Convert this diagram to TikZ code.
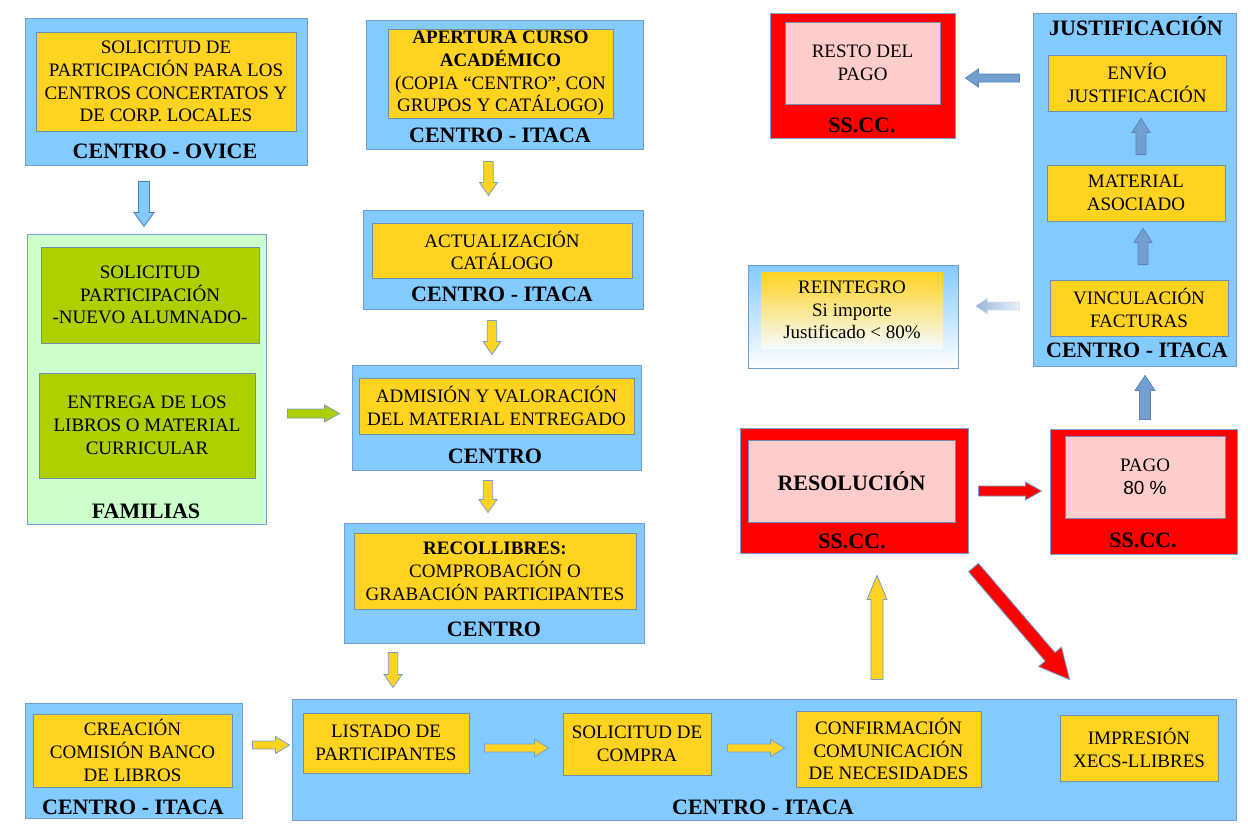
\documentclass[tikz,border=0pt]{standalone}
\usepackage{fontspec}
\setmainfont{Liberation Serif}
\newfontfamily\sanslib{Liberation Sans}
\usepackage{tikz}
\usetikzlibrary{calc}

\definecolor{azul}{HTML}{83CAFF}
\definecolor{bordeazul}{HTML}{729FCF}
\definecolor{azulosc}{HTML}{4A7EBB}
\definecolor{amarillo}{HTML}{FFD320}
\definecolor{bordeint}{HTML}{6F8DAF}
\definecolor{verdeclaro}{HTML}{CCFFCC}
\definecolor{verde}{HTML}{AECF00}
\definecolor{rojo}{HTML}{FF0000}
\definecolor{rosa}{HTML}{FFCCCC}
\definecolor{acero}{HTML}{729FCF}
\definecolor{aceroosc}{HTML}{5A84BA}

% flecha de bloque: [estilo]{inicio}{fin}{medio ancho}{medio ancho punta}{largo punta}
\newcommand{\flecha}[6][]{%
  \coordinate (fa) at (#2);
  \coordinate (fb) at (#3);
  \coordinate (fc) at ($(fb)!#6!(fa)$);
  \draw[#1] ($(fa)!#4!90:(fb)$) -- ($(fc)!#4!90:(fb)$) -- ($(fc)!#5!90:(fb)$) -- (fb)
    -- ($(fc)!#5!-90:(fb)$) -- ($(fc)!#4!-90:(fb)$) -- ($(fa)!#4!-90:(fb)$) -- cycle;}

\begin{document}
\begin{tikzpicture}[x=1pt, y=-1pt,
	caja/.style={draw=bordeazul, fill=azul, line width=1pt, inner sep=0pt},
	interno/.style={draw=bordeint, fill=amarillo, line width=0.8pt, inner sep=1pt, align=center,
		font=\fontsize{19}{22.8}\selectfont},
	etiqueta/.style={anchor=base, inner sep=0pt, font=\fontsize{22}{26}\selectfont\bfseries},
	flamarilla/.style={draw=bordeazul, fill=amarillo, line width=0.8pt},
	flazul/.style={draw=azulosc, fill=azul, line width=0.8pt},
	flverde/.style={draw=bordeazul, fill=verde, line width=0.8pt},
	flroja/.style={draw=bordeazul, fill=rojo, line width=0.8pt},
	flacero/.style={draw=aceroosc, fill=acero, line width=0.8pt},
	flpalida/.style={draw=acero!30, left color=acero!75, right color=acero!15, line width=0.6pt}]
	\useasboundingbox (0,0) rectangle (1248,823);

	% columna izquierda
	\node[caja, minimum width=282pt, minimum height=147pt] (ovice) at (166,91.5) {};
	\node[interno, minimum width=260pt, minimum height=99pt] (ovicein) at (166,81.5) {SOLICITUD DE\\PARTICIPACIÓN PARA LOS\\CENTROS CONCERTATOS Y\\DE CORP. LOCALES};
	\node[etiqueta] (ovicelab) at (165,158) {CENTRO - OVICE};

	\node[caja, fill=verdeclaro, minimum width=239pt, minimum height=290pt] (familias) at (146.5,379) {};
	\node[interno, fill=verde, minimum width=218pt, minimum height=96pt] (famsol) at (150,295) {SOLICITUD\\PARTICIPACIÓN\\-NUEVO ALUMNADO-};
	\node[interno, fill=verde, minimum width=216pt, minimum height=105pt] (fament) at (147,425.5) {ENTREGA DE LOS\\LIBROS O MATERIAL\\CURRICULAR};
	\node[etiqueta] (famlab) at (146,518) {FAMILIAS};

	\node[caja, minimum width=217pt, minimum height=115pt] (creacion) at (133.5,760.5) {};
	\node[interno, minimum width=199pt, minimum height=73pt] (creacionin) at (132.5,750.5) {CREACIÓN\\COMISIÓN BANCO\\DE LIBROS};
	\node[etiqueta] (creacionlab) at (133,814) {CENTRO - ITACA};

	% columna central
	\node[caja, minimum width=277pt, minimum height=129pt] (apertura) at (504.5,84.5) {};
	\node[interno, minimum width=225pt, minimum height=89pt, inner sep=0pt] (aperturain) at (500.5,73.5) {\textbf{APERTURA CURSO}\\\textbf{ACADÉMICO}\\(COPIA “CENTRO”, CON\\GRUPOS Y CATÁLOGO)};
	\node[etiqueta] (aperturalab) at (500,142) {CENTRO - ITACA};

	\node[caja, minimum width=280pt, minimum height=99pt] (actual) at (503,259.5) {};
	\node[interno, minimum width=260pt, minimum height=55pt] (actualin) at (502,250.5) {ACTUALIZACIÓN\\CATÁLOGO};
	\node[etiqueta] (actuallab) at (502,301) {CENTRO - ITACA};

	\node[caja, minimum width=289pt, minimum height=105pt] (admision) at (496.5,417.5) {};
	\node[interno, minimum width=275pt, minimum height=56pt] (admisionin) at (496.5,406) {ADMISIÓN Y VALORACIÓN\\DEL MATERIAL ENTREGADO};
	\node[etiqueta] (admisionlab) at (495,463) {CENTRO};

	\node[caja, minimum width=300pt, minimum height=120pt] (recol) at (494,583) {};
	\node[interno, minimum width=282pt, minimum height=76pt] (recolin) at (495,571) {\textbf{RECOLLIBRES:}\\COMPROBACIÓN O\\GRABACIÓN PARTICIPANTES};
	\node[etiqueta] (recollab) at (494,636) {CENTRO};

	% fila inferior
	\node[caja, minimum width=944pt, minimum height=121pt] (itaca) at (764,759.5) {};
	\node[interno, minimum width=166pt, minimum height=60pt] (listado) at (386,743) {LISTADO DE\\PARTICIPANTES};
	\node[interno, minimum width=148pt, minimum height=62pt] (compra) at (637,744) {SOLICITUD DE\\COMPRA};
	\node[interno, minimum width=185pt, minimum height=76pt] (confirm) at (888.5,749) {CONFIRMACIÓN\\COMUNICACIÓN\\DE NECESIDADES};
	\node[interno, minimum width=158pt, minimum height=66pt] (impres) at (1139,748) {IMPRESIÓN\\XECS-LLIBRES};
	\node[etiqueta] (itacalab) at (763,814) {CENTRO - ITACA};

	% SS.CC.
	\node[caja, fill=rojo, minimum width=228pt, minimum height=125pt] (resol) at (854,490.5) {};
	\node[interno, fill=rosa, minimum width=207pt, minimum height=82pt, font=\fontsize{22}{26}\selectfont\bfseries] (resolin) at (851.5,481) {RESOLUCIÓN};
	\node[etiqueta] (resollab) at (852,548) {SS.CC.};

	\node[caja, fill=rojo, minimum width=187pt, minimum height=125pt] (pago) at (1143.5,491.5) {};
	\node[interno, fill=rosa, minimum width=160pt, minimum height=82pt] (pagoin) at (1145,477) {PAGO\\{\sanslib 80 \%}};
	\node[etiqueta] (pagolab) at (1143,547) {SS.CC.};

	\node[caja, fill=rojo, minimum width=185pt, minimum height=125pt] (resto) at (862.5,75.5) {};
	\node[interno, fill=rosa, minimum width=155pt, minimum height=82pt] (restoin) at (862.5,63) {RESTO DEL\\PAGO};
	\node[etiqueta] (restolab) at (862,132) {SS.CC.};

	% justificacion
	\node[caja, minimum width=203pt, minimum height=353pt] (justif) at (1134.5,189.5) {};
	\node[etiqueta] (justiftit) at (1136,35) {JUSTIFICACIÓN};
	\node[interno, minimum width=178pt, minimum height=56pt] (envio) at (1137,83) {ENVÍO\\JUSTIFICACIÓN};
	\node[interno, minimum width=178pt, minimum height=56pt] (material) at (1136,193) {MATERIAL\\ASOCIADO};
	\node[interno, minimum width=178pt, minimum height=56pt] (vincul) at (1139,308) {VINCULACIÓN\\FACTURAS};
	\node[etiqueta] (justiflab) at (1137,357) {CENTRO - ITACA};

	\node[caja, top color=azul, bottom color=white, minimum width=210pt, minimum height=103pt] (reint) at (853,316.5) {};
	\node[interno, draw=none, top color=amarillo, bottom color=azul!8, minimum width=182pt, minimum height=76pt] (reintin) at (852,310) {REINTEGRO\\Si importe\\Justificado < 80\%};

	% flechas
	\flecha[flazul]{$(ovice.south)+(-22,16)$}{$(ovice.south |- familias.north)+(-22,-7)$}{5.5pt}{10pt}{14pt}
	\flecha[flverde]{$(familias.east |- admision.west)+(21,-4)$}{$(admision.west)+(-12,-4)$}{4.5pt}{8.5pt}{15pt}
	\flecha[flamarilla]{$(apertura.south)+(-16,12)$}{$(apertura.south |- actual.north)+(-16,-14)$}{4.7pt}{9pt}{13pt}
	\flecha[flamarilla]{$(actual.south)+(-11,11)$}{$(actual.south |- admision.north)+(-11,-10)$}{4.7pt}{9pt}{13pt}
	\flecha[flamarilla]{$(admision.south)+(-8.5,10)$}{$(admision.south |- recol.north)+(-8.5,-10)$}{4.7pt}{9pt}{13pt}
	\flecha[flamarilla]{$(recol.south)+(-101,9)$}{$(recol.south |- itaca.north)+(-101,-11)$}{4.7pt}{9pt}{13pt}
	\flecha[flamarilla]{$(creacion.east |- listado)+(10,2)$}{$(itaca.west |- listado)+(-2,2)$}{4pt}{8.5pt}{14pt}
	\flecha[flamarilla]{$(listado.east)+(15,5)$}{$(compra.west |- listado.east)+(-14,5)$}{4pt}{8.5pt}{14pt}
	\flecha[flamarilla]{$(compra.east)+(16,4)$}{$(confirm.west |- compra.east)+(-11,4)$}{4pt}{8.5pt}{14pt}
	\flecha[flamarilla]{$(itaca.north -| resol.south)+(23,-19)$}{$(resol.south)+(23,22)$}{6pt}{10pt}{24pt}
	\flecha[flroja]{$(resol.east)+(10,0.5)$}{$(pago.west |- resol.east)+(-8,0.5)$}{5pt}{9pt}{16pt}
	\flecha[flroja]{$(resol.south east)+(5,14)$}{$(impres.north west)+(10,-35)$}{6.5pt}{15pt}{30pt}
	\flecha[flacero]{$(pago.north)+(1.5,-9)$}{$(pago.north |- justif.south)+(1.5,9)$}{5.5pt}{10pt}{15pt}
	\flecha[flacero]{$(vincul.north)+(4,-15)$}{$(vincul.north |- material.south)+(4,7)$}{5pt}{9pt}{14pt}
	\flecha[flacero]{$(material.north)+(5,-10)$}{$(material.north |- envio.south)+(5,7)$}{5pt}{9pt}{14pt}
	\flecha[flacero]{$(justif.west |- envio)+(-13,-5)$}{$(resto.east |- envio)+(10,-5)$}{4pt}{9pt}{13pt}
	\flecha[flpalida]{$(justif.west |- vincul)+(-13,-2)$}{$(reint.east |- vincul)+(17,-2)$}{4pt}{8pt}{12pt}
\end{tikzpicture}
\end{document}
